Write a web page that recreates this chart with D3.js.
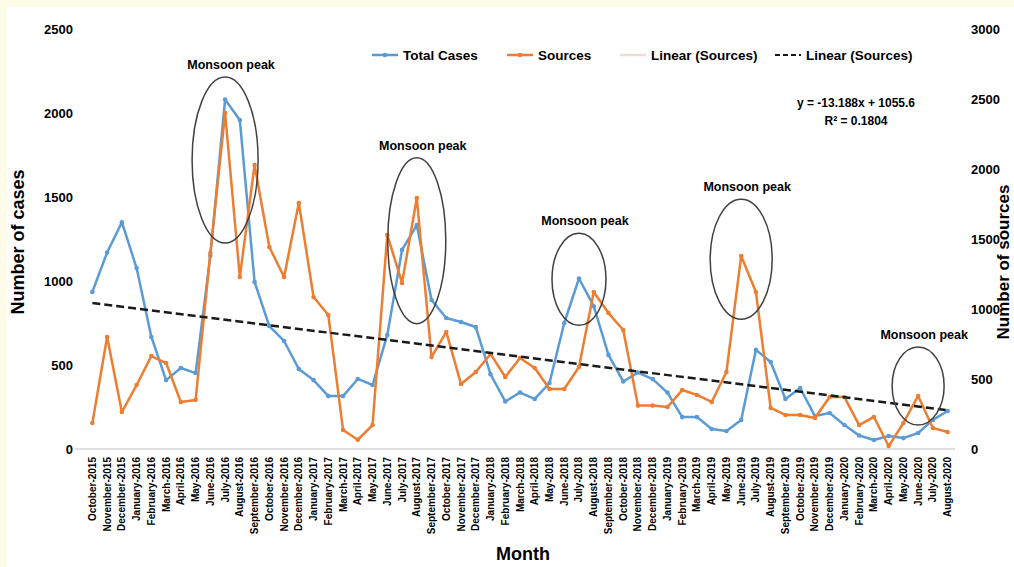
<!DOCTYPE html>
<html>
<head>
<meta charset="utf-8">
<script src="https://cdn.jsdelivr.net/npm/d3@7"></script>
<style>
  html, body { margin: 0; padding: 0; background: #fefbe9; }
  svg { display: block; font-family: "Liberation Sans", Arial, sans-serif; }
</style>
</head>
<body>
<div id="content"></div>
<script>
// Months on the x axis
const months = [
  'October-2015', 'November-2015', 'December-2015',
  'January-2016', 'February-2016', 'March-2016', 'April-2016', 'May-2016', 'June-2016',
  'July-2016', 'August-2016', 'September-2016', 'October-2016', 'November-2016', 'December-2016',
  'January-2017', 'February-2017', 'March-2017', 'April-2017', 'May-2017', 'June-2017',
  'July-2017', 'August-2017', 'September-2017', 'October-2017', 'November-2017', 'December-2017',
  'January-2018', 'February-2018', 'March-2018', 'April-2018', 'May-2018', 'June-2018',
  'July-2018', 'August-2018', 'September-2018', 'October-2018', 'November-2018', 'December-2018',
  'January-2019', 'February-2019', 'March-2019', 'April-2019', 'May-2019', 'June-2019',
  'July-2019', 'August-2019', 'September-2019', 'October-2019', 'November-2019', 'December-2019',
  'January-2020', 'February-2020', 'March-2020', 'April-2020', 'May-2020', 'June-2020',
  'July-2020', 'August-2020'
];

// Total cases (left axis)
const totalCases = [
  935, 1170, 1350, 1077, 667, 410, 482, 452, 1150,
  2080, 1958, 994, 732, 643, 476,
  410, 315, 315, 417, 381, 679,
  1185, 1333, 887, 780, 756, 726,
  445, 283, 336, 298, 393, 750,
  1015, 850, 560, 402, 455, 416,
  336, 190, 190, 119, 107, 173,
  590, 518, 298, 363, 196, 214,
  143, 80, 54, 77, 65, 95,
  173, 226
];

// Sources (right axis)
const sources = [
  186, 800, 264, 457, 664, 614, 336, 350, 1400,
  2400, 1229, 2029, 1443, 1229, 1757,
  1086, 957, 136, 66, 171, 1529,
  1186, 1793, 657, 836, 464, 550,
  679, 514, 650, 579, 429, 429,
  586, 1121, 971, 850, 310, 310,
  300, 421, 386, 336, 550, 1379,
  1121, 293, 243, 243, 221, 371,
  371, 171, 229, 21, 186, 379,
  150, 121
];

// Tick labels
const leftTicks = [0, 500, 1000, 1500, 2000, 2500];
const rightTicks = [0, 500, 1000, 1500, 2000, 2500, 3000];

// Linear trend of sources as printed on the chart
const trendSlope = -13.188;
const trendIntercept = 1055.6;
const trendR2 = 0.1804;

// Monsoon peak annotations (month, centre in left-axis units, radii in px)
const peakMonths = ['July-2016', 'August-2017', 'July-2018', 'June-2019', 'June-2020'];
const peakCentres = [1720, 1240, 1010, 1130, 375];
const peakRx = [33, 29, 27, 31, 26];
const peakRy = [83, 83, 46, 60, 39];

const width = 1014, height = 567;
const blue = '#5b9bd5', orange = '#ed7d31';

const svg = d3.select('#content')
  .append('svg')
  .attr('width', width)
  .attr('height', height);

// white chart area
svg.append('rect')
  .attr('x', 7).attr('y', 7)
  .attr('width', width - 7).attr('height', height - 7)
  .attr('fill', '#ffffff');

const xScale = d3.scaleBand().domain(months).range([85, 955]);
const xc = m => xScale(m) + xScale.bandwidth() / 2;
const yLeft = d3.scaleLinear().domain([0, 2500]).range([449, 29]);
const yRight = d3.scaleLinear().domain([0, 3000]).range([449, 29]);

// X axis
const xAxis = svg.append('g')
  .attr('transform', 'translate(0,449)')
  .call(d3.axisBottom(xScale).tickSize(0));
xAxis.select('.domain').attr('stroke', '#d4d4d4').attr('stroke-width', 1.5)
  .attr('d', 'M75,0H955');
xAxis.selectAll('text')
  .attr('transform', 'rotate(-90)')
  .attr('text-anchor', 'end')
  .attr('x', -8).attr('y', 0).attr('dy', '0.35em')
  .style('font-size', '10px').style('font-weight', 'bold').attr('fill', '#000');

// Left axis
const yAxisL = svg.append('g')
  .attr('transform', 'translate(75,0)')
  .call(d3.axisLeft(yLeft).tickValues(leftTicks).tickFormat(d3.format('d')).tickSize(0).tickPadding(2));
yAxisL.select('.domain').remove();
yAxisL.selectAll('text').style('font-size', '13px').style('font-weight', 'bold').attr('fill', '#000');

// Right axis
const yAxisR = svg.append('g')
  .attr('transform', 'translate(971,0)')
  .call(d3.axisRight(yRight).tickValues(rightTicks).tickFormat(d3.format('d')).tickSize(0).tickPadding(0));
yAxisR.select('.domain').remove();
yAxisR.selectAll('text').style('font-size', '13px').style('font-weight', 'bold').attr('fill', '#000');

// Axis titles
svg.append('text')
  .attr('transform', 'translate(24,242) rotate(-90)')
  .attr('text-anchor', 'middle')
  .style('font-size', '18px').style('font-weight', 'bold')
  .text('Number of cases');
svg.append('text')
  .attr('transform', 'translate(1009,262) rotate(-90)')
  .attr('text-anchor', 'middle')
  .style('font-size', '17px').style('font-weight', 'bold')
  .text('Number of sources');
svg.append('text')
  .attr('x', 523).attr('y', 560)
  .attr('text-anchor', 'middle')
  .style('font-size', '18px').style('font-weight', 'bold')
  .text('Month');

// Series
const drawSeries = (values, yScale, color) => {
  const line = d3.line()
    .x((d, i) => xc(months[i]))
    .y(d => yScale(d));
  svg.append('path')
    .datum(values)
    .attr('d', line)
    .attr('fill', 'none')
    .attr('stroke', color)
    .attr('stroke-width', 2.5)
    .attr('stroke-linejoin', 'round');
  svg.append('g').selectAll('circle')
    .data(values)
    .enter()
    .append('circle')
    .attr('cx', (d, i) => xc(months[i]))
    .attr('cy', d => yScale(d))
    .attr('r', 2.3)
    .attr('fill', color);
};
drawSeries(totalCases, yLeft, blue);
drawSeries(sources, yRight, orange);

// Trend line (x = 1..n)
const n = months.length;
svg.append('line')
  .attr('x1', xc(months[0])).attr('y1', yRight(trendSlope * 1 + trendIntercept))
  .attr('x2', xc(months[n - 1])).attr('y2', yRight(trendSlope * n + trendIntercept))
  .attr('stroke', '#1a1a1a')
  .attr('stroke-width', 2.5)
  .attr('stroke-dasharray', '8,4');

// Monsoon peak ellipses and labels
peakMonths.forEach((m, i) => {
  const cx = xc(m), cy = yLeft(peakCentres[i]);
  svg.append('ellipse')
    .attr('cx', cx).attr('cy', cy)
    .attr('rx', peakRx[i]).attr('ry', peakRy[i])
    .attr('fill', 'none')
    .attr('stroke', '#404040')
    .attr('stroke-width', 1.5);
  svg.append('text')
    .attr('x', cx + 6).attr('y', cy - peakRy[i] - 8)
    .attr('text-anchor', 'middle')
    .style('font-size', '12.5px').style('font-weight', 'bold')
    .text('Monsoon peak');
});

// Equation
svg.append('text')
  .attr('x', 856).attr('y', 107)
  .attr('text-anchor', 'middle')
  .style('font-size', '12px').style('font-weight', 'bold')
  .text(`y = ${trendSlope}x + ${trendIntercept}`);
svg.append('text')
  .attr('x', 856).attr('y', 125)
  .attr('text-anchor', 'middle')
  .style('font-size', '12px').style('font-weight', 'bold')
  .text(`R² = ${trendR2}`);

// Legend
const legendItems = [
  { label: 'Total Cases', color: blue, dash: null, marker: true, x: 372 },
  { label: 'Sources', color: orange, dash: null, marker: true, x: 507 },
  { label: 'Linear (Sources)', color: '#ecdcd4', dash: null, marker: false, x: 620 },
  { label: 'Linear (Sources)', color: '#1a1a1a', dash: '5,3', marker: false, x: 775 }
];
const legend = svg.append('g').attr('transform', 'translate(0,55)');
legendItems.forEach(it => {
  legend.append('line')
    .attr('x1', it.x).attr('x2', it.x + 26)
    .attr('y1', 0).attr('y2', 0)
    .attr('stroke', it.color)
    .attr('stroke-width', it.dash ? 2 : 2.5)
    .attr('stroke-dasharray', it.dash);
  if (it.marker) {
    legend.append('circle')
      .attr('cx', it.x + 13).attr('cy', 0).attr('r', 2.3)
      .attr('fill', it.color);
  }
  legend.append('text')
    .attr('x', it.x + 31).attr('y', 0).attr('dy', '0.35em')
    .style('font-size', '13.5px').style('font-weight', 'bold')
    .text(it.label);
});
</script>
</body>
</html>
